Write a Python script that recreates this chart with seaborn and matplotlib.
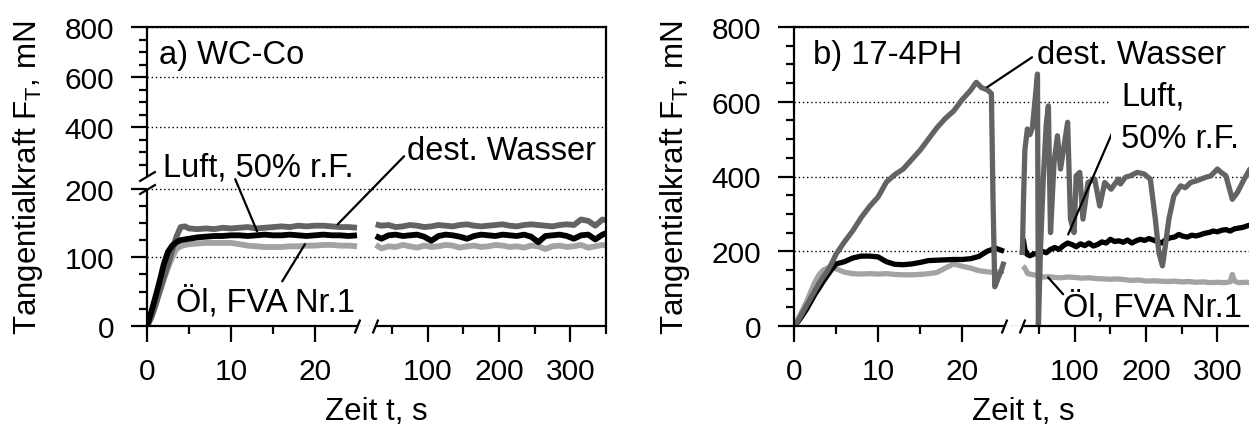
import numpy as np
import pandas as pd
import matplotlib
matplotlib.use("Agg")
import matplotlib.pyplot as plt
import seaborn as sns
from matplotlib.path import Path
from matplotlib.transforms import blended_transform_factory

# ---------------------------------------------------------------- data
MEDIA = ["Luft, 50% r.F.", "dest. Wasser", "Öl, FVA Nr.1"]
COLORS = {"Luft, 50% r.F.": "#000000",
          "dest. Wasser": "#636363",
          "Öl, FVA Nr.1": "#a3a3a3"}

# a) WC-Co, first section 0-25 s
TIME_A1 = [0, 0.5, 1, 1.5, 2, 2.5, 3, 3.5, 4, 4.5, 5, 6, 7, 8, 9, 10, 11, 12,
           13, 14, 15, 16, 17, 18, 19, 20, 21, 22, 23, 24, 25]
A_LUFT_1 = [0, 20, 42, 65, 90, 108, 117, 122, 125, 126, 127, 129, 130, 131,
            131, 132, 132, 131, 132, 133, 132, 132, 133, 132, 131, 132, 133,
            132, 132, 131, 132]
A_WASSER_1 = [0, 12, 30, 50, 70, 90, 110, 130, 144, 145, 142, 141, 142, 141,
              143, 142, 143, 144, 142, 143, 144, 145, 144, 146, 145, 146, 146,
              145, 144, 144, 143]
A_OEL_1 = [0, 12, 30, 50, 68, 85, 100, 112, 116, 118, 119, 120, 121, 121, 121,
           121, 119, 117, 116, 115, 115, 115, 116, 116, 117, 117, 118, 118,
           117, 117, 116]

# a) WC-Co, second section up to 350 s
TIME_A2 = [27, 35, 45, 55, 65, 75, 85, 95, 105, 115, 125, 135, 145, 155, 165,
           175, 185, 195, 205, 215, 225, 235, 245, 255, 265, 275, 285, 295,
           305, 315, 325, 335, 345, 350]
A_LUFT_2 = [131, 127, 132, 133, 131, 132, 133, 130, 124, 131, 133, 132, 130,
            127, 131, 133, 132, 131, 133, 132, 131, 133, 130, 122, 131, 132,
            133, 131, 127, 132, 133, 126, 133, 135]
A_WASSER_2 = [148, 146, 147, 144, 145, 147, 146, 144, 145, 147, 146, 145, 147,
              148, 146, 145, 146, 147, 148, 146, 145, 147, 148, 147, 146, 145,
              147, 148, 147, 155, 153, 146, 155, 154]
A_OEL_2 = [118, 113, 116, 115, 118, 116, 114, 117, 115, 116, 118, 117, 114,
           116, 117, 115, 116, 118, 117, 115, 116, 114, 117, 116, 112, 116,
           117, 115, 116, 118, 114, 116, 118, 117]

# b) 17-4PH, first section 0-25 s
TIME_B1 = [0, 0.5, 1, 1.5, 2, 2.5, 3, 3.5, 4, 4.5, 5, 6, 7, 8, 9, 10, 11, 12,
           13, 14, 15, 16, 17, 18, 19, 20, 21, 22, 23, 24, 25]
B_LUFT_1 = [0, 12, 28, 45, 65, 85, 102, 120, 136, 152, 166, 172, 182, 187,
            187, 185, 172, 165, 164, 166, 170, 175, 176, 177, 178, 178, 180,
            186, 200, 208, 200]
B_OEL_1 = [0, 20, 42, 65, 92, 118, 138, 150, 155, 156, 153, 144, 140, 139,
           140, 139, 140, 138, 137, 137, 138, 140, 143, 155, 166, 160, 155,
           148, 145, 143, 147]
TIME_B1_W = [0, 0.5, 1, 1.5, 2, 2.5, 3, 3.5, 4, 4.5, 5, 6, 7, 8, 9, 10, 11,
             12, 13, 14, 15, 16, 17, 18, 19, 20, 21, 21.7, 22.3, 23, 23.5,
             23.7, 23.9, 24.3, 24.7, 25]
B_WASSER_1 = [0, 15, 35, 55, 75, 95, 115, 132, 148, 168, 192, 225, 255, 290,
              320, 345, 385, 405, 420, 445, 470, 500, 530, 555, 575, 605, 630,
              652, 638, 632, 622, 330, 105, 128, 150, 172]

# b) 17-4PH, second section up to 350 s
TIME_B2_L = [26.5, 28, 30, 33, 37, 42, 48, 54, 60, 66, 72, 78, 84, 90, 96,
             102, 108, 114, 120, 126, 132, 138, 144, 150, 156, 162, 168, 174,
             180, 186, 192, 198, 204, 210, 216, 222, 228, 234, 240, 246, 252,
             258, 264, 270, 276, 282, 288, 294, 300, 306, 312, 318, 324, 330,
             336, 342, 350]
B_LUFT_2 = [190, 230, 205, 192, 188, 192, 195, 200, 196, 205, 210, 205, 215,
            222, 218, 212, 220, 215, 222, 214, 218, 225, 222, 232, 226, 228,
            224, 230, 222, 228, 232, 229, 234, 230, 226, 222, 232, 236, 238,
            245, 240, 238, 243, 241, 244, 248, 250, 254, 252, 256, 258, 254,
            260, 262, 264, 268, 272]
TIME_B2_O = [27, 30, 34, 40, 48, 56, 64, 72, 80, 90, 100, 110, 120, 130, 140,
             150, 160, 170, 180, 190, 200, 210, 220, 230, 240, 250, 260, 270,
             280, 290, 300, 310, 318, 321, 324, 330, 340, 350]
B_OEL_2 = [160, 155, 140, 138, 134, 131, 132, 130, 129, 131, 130, 128, 129,
           127, 126, 125, 126, 124, 122, 123, 120, 121, 120, 119, 120, 118,
           119, 117, 118, 116, 117, 116, 118, 138, 120, 116, 117, 116]
TIME_B2_W = [26.5, 28, 30, 33.5, 37, 40.5, 44, 47.7, 49, 52, 56, 60, 63, 66,
             71, 75.7, 80, 85, 90, 94, 99, 102, 107, 111.5, 118.6, 128, 135,
             142, 151, 161, 164, 171, 178, 187.5, 197, 206, 213, 218, 223,
             227, 232, 239, 248.5, 255, 262.6, 270, 277, 284, 291, 300, 306,
             312, 321, 328, 337.7, 345.7, 350]
B_WASSER_2 = [190, 330, 470, 527, 512, 530, 598, 674, 0, 210, 400, 540, 589,
              250, 440, 509, 420, 482, 545, 286, 250, 402, 411, 286, 384, 393,
              321, 384, 366, 393, 380, 398, 402, 411, 407, 393, 286, 196, 161,
              214, 286, 348, 375, 370, 384, 388, 393, 398, 402, 420, 410, 402,
              339, 357, 393, 420, 425]

# axis ticks
X_TICKS = [0, 10, 20, 100, 200, 300]
X_TICK_LABELS = ["0", "10", "20", "100", "200", "300"]
X_MINOR = [5, 15, 50, 150, 250, 350]
YA_TICKS = [0, 100, 200, 400, 600, 800]
YA_MINOR = [25, 50, 75, 125, 150, 175, 250, 300, 350, 450, 500, 550, 650,
            700, 750]
YB_TICKS = [0, 200, 400, 600, 800]
YB_MINOR = [50, 100, 150, 250, 300, 350, 450, 500, 550, 650, 700, 750]

# ---------------------------------------------------------------- style
sns.set_theme(style="ticks", rc={
    "axes.edgecolor": "black", "axes.linewidth": 1.6,
    "xtick.color": "black", "ytick.color": "black",
    "text.color": "black", "axes.labelcolor": "black",
})
plt.rcParams["font.family"] = ["Liberation Sans", "DejaVu Sans"]
plt.rcParams["mathtext.default"] = "regular"

TICK_FS = 21.5
LABEL_FS = 22.5
NOTE_FS = 23.5


def piecewise(kx, ky):
    """Piecewise linear map through the knots, extrapolated at both ends."""
    kx = np.asarray(kx, float)
    ky = np.asarray(ky, float)
    s0 = (ky[1] - ky[0]) / (kx[1] - kx[0])
    s1 = (ky[-1] - ky[-2]) / (kx[-1] - kx[-2])

    def f(v):
        v = np.asarray(v, float)
        out = np.interp(v, kx, ky)
        out = np.where(v < kx[0], ky[0] + (v - kx[0]) * s0, out)
        out = np.where(v > kx[-1], ky[-1] + (v - kx[-1]) * s1, out)
        return out
    return f


def long_frame(parts):
    pieces = [pd.DataFrame({"t": t, "F": f, "Medium": m, "Abschnitt": s})
              for m, s, t, f in parts]
    return pd.concat(pieces, ignore_index=True)


df_a = long_frame([
    (MEDIA[0], 1, TIME_A1, A_LUFT_1), (MEDIA[0], 2, TIME_A2, A_LUFT_2),
    (MEDIA[1], 1, TIME_A1, A_WASSER_1), (MEDIA[1], 2, TIME_A2, A_WASSER_2),
    (MEDIA[2], 1, TIME_A1, A_OEL_1), (MEDIA[2], 2, TIME_A2, A_OEL_2),
])
df_b = long_frame([
    (MEDIA[0], 1, TIME_B1, B_LUFT_1), (MEDIA[0], 2, TIME_B2_L, B_LUFT_2),
    (MEDIA[1], 1, TIME_B1_W, B_WASSER_1), (MEDIA[1], 2, TIME_B2_W, B_WASSER_2),
    (MEDIA[2], 1, TIME_B1, B_OEL_1), (MEDIA[2], 2, TIME_B2_O, B_OEL_2),
])

# broken time axis: 0-25 s wide, short gap, 26-350 s compressed
T_KNOTS, TU_KNOTS = [0, 25, 26, 350], [0, 210, 228, 459]
t_scale = (piecewise(T_KNOTS, TU_KNOTS), piecewise(TU_KNOTS, T_KNOTS))
# broken force axis in panel a: 0-200 stretched, gap, 200-800 compressed
F_KNOTS, FU_KNOTS = [0, 200, 204, 800], [0, 137.4, 150, 299]
f_scale = (piecewise(F_KNOTS, FU_KNOTS), piecewise(FU_KNOTS, F_KNOTS))

W, H = 1249, 431
fig = plt.figure(figsize=(W / 100, H / 100), dpi=100)
ax_a = fig.add_axes([147 / W, 104 / H, 459 / W, 299 / H])
ax_b = fig.add_axes([794 / W, 104 / H, 459 / W, 299 / H])

SLASH_X = Path([(-0.4, -1.0), (0.4, 1.0)], [Path.MOVETO, Path.LINETO])
SLASH_Y = Path([(-1.0, -0.6), (1.0, 0.6)], [Path.MOVETO, Path.LINETO])

for ax, df, order, lw in [
        (ax_a, df_a, [MEDIA[2], MEDIA[1], MEDIA[0]], 4.2),
        (ax_b, df_b, [MEDIA[2], MEDIA[0], MEDIA[1]], 3.8)]:
    sns.lineplot(data=df, x="t", y="F", hue="Medium", hue_order=order,
                 palette=COLORS, units="Abschnitt", estimator=None,
                 sort=False, linewidth=lw, legend=False, ax=ax,
                 solid_joinstyle="round", solid_capstyle="butt", zorder=2)
    ax.set_xscale("function", functions=t_scale)
    ax.set_xlim(0, 350)
    ax.set_xlabel("Zeit t, s", fontsize=LABEL_FS, labelpad=8)
    ax.set_ylabel("Tangentialkraft F$_T$, mN", fontsize=LABEL_FS,
                  labelpad=14)

    # interrupted bottom spine with break marks
    ax.spines["bottom"].set_visible(False)
    tr = blended_transform_factory(ax.transData, ax.transAxes)
    for lo, hi in [(0, 25), (26, 350)]:
        ax.plot([lo, hi], [0, 0], transform=tr, color="black", lw=1.6,
                solid_capstyle="butt", clip_on=False, zorder=4)
    ax.plot([25, 26], [0, 0], transform=tr, ls="none", marker=SLASH_X,
            ms=10, mew=1.6, mec="black", clip_on=False, zorder=4)

# panel a: broken force axis
ax_a.set_yscale("function", functions=f_scale)
ax_a.set_ylim(0, 800)
ax_a.spines["left"].set_visible(False)
tr_y = blended_transform_factory(ax_a.transAxes, ax_a.transData)
for lo, hi in [(0, 200), (204, 800)]:
    ax_a.plot([0, 0], [lo, hi], transform=tr_y, color="black", lw=1.6,
              solid_capstyle="butt", clip_on=False, zorder=4)
ax_a.plot([0, 0], [200, 204], transform=tr_y, ls="none", marker=SLASH_Y,
          ms=12, mew=1.6, mec="black", clip_on=False, zorder=4)
ax_b.set_ylim(0, 800)

for ax, yt, ym in [(ax_a, YA_TICKS, YA_MINOR), (ax_b, YB_TICKS, YB_MINOR)]:
    ax.set_xticks(X_TICKS, labels=X_TICK_LABELS)
    ax.set_xticks(X_MINOR, minor=True)
    ax.set_yticks(yt, labels=[str(v) for v in yt])
    ax.set_yticks(ym, minor=True)
    ax.tick_params(which="major", direction="out", length=11.5, width=1.6,
                   labelsize=TICK_FS)
    ax.tick_params(which="minor", direction="out", length=5.5, width=1.6)
    ax.tick_params(axis="x", which="major", pad=11)
    ax.tick_params(axis="y", which="major", pad=12)
    ax.grid(axis="y", which="major", color="black", linestyle=(0, (1, 2)),
            linewidth=1.0)

leader = dict(arrowstyle="-", color="black", lw=1.6, shrinkA=0, shrinkB=0)

# panel a labels
ax_a.text(1.4, 657, "a) WC-Co", fontsize=NOTE_FS, va="baseline")
ax_a.text(1.9, 205, MEDIA[0], fontsize=NOTE_FS, va="baseline")
ax_a.text(71, 272, MEDIA[1], fontsize=NOTE_FS, va="baseline")
ax_a.text(3.5, 22, MEDIA[2], fontsize=NOTE_FS, va="baseline")
ax_a.annotate("", xy=(13.1, 138), xytext=(10.5, 203), arrowprops=leader)
ax_a.annotate("", xy=(22.7, 148), xytext=(66.8, 283), arrowprops=leader)
ax_a.annotate("", xy=(18.8, 119), xytext=(16.1, 65), arrowprops=leader)

# panel b labels
ax_b.text(2.3, 705, "b) 17-4PH", fontsize=NOTE_FS, va="baseline")
ax_b.text(47, 705, MEDIA[1], fontsize=NOTE_FS, va="baseline")
ax_b.text(165, 478, "Luft,\n50% r.F.", fontsize=NOTE_FS, va="baseline",
          linespacing=1.5, zorder=5,
          bbox=dict(boxstyle="square,pad=0.3", fc="white", ec="none"))
ax_b.text(83.7, 27, MEDIA[2], fontsize=NOTE_FS, va="baseline")
ax_b.annotate("", xy=(23.0, 639), xytext=(40.1, 719), arrowprops=leader)
ax_b.annotate("", xy=(90.8, 245), xytext=(152.8, 518), arrowprops=leader)
ax_b.annotate("", xy=(83.7, 85), xytext=(62.6, 130), arrowprops=leader)

fig.savefig("out.png", dpi=100)
